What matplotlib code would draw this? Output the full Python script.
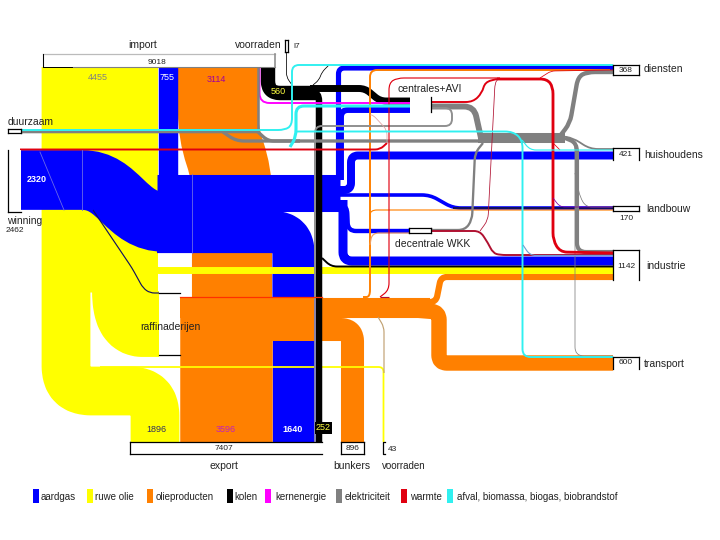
import matplotlib
matplotlib.use("Agg")
import matplotlib.pyplot as plt
from matplotlib.path import Path
from matplotlib.patches import PathPatch, Rectangle

plt.rcParams['font.family'] = ['Liberation Sans', 'DejaVu Sans']

# ---- values (energy units, read from the labels; small flows estimated from their width)
import_total, import_oil, import_gas, import_prod, import_coal = 9018, 4455, 755, 3114, 560
stock_in = 17
winning_total, winning_gas = 2462, 2320
export_total, export_oil, export_prod, export_gas, export_coal = 7407, 1896, 3596, 1640, 252
bunkers, stock_out = 896, 43
diensten, huishoudens, landbouw, industrie, transport = 368, 421, 170, 1142, 600

oil_to_refinery = 2560
oil_to_industry = 270
prod_through, prod_to_industry, prod_to_transport = 780, 240, 470
gas_main, gas_huish, gas_dienst, gas_central, gas_ind, gas_land, gas_wkk = 1440, 310, 200, 230, 350, 140, 170
thin, fine, hair = 75, 45, 30
el_central, el_dienst, el_ind, el_mid, el_huish, el_wkk = 230, 170, 160, 120, 70, 90
heat_ind = 110

legend_names = ['aardgas', 'ruwe olie', 'olieproducten', 'kolen', 'kernenergie',
                'elektriciteit', 'warmte', 'afval, biomassa, biogas, biobrandstof']
legend_colors = ['#0000ff', '#ffff00', '#ff8000', '#000000', '#ff00ff', '#808080', '#e00010', '#30f0f0']

PX = 232 / import_total          # pixels of band width per unit
BLUE, YEL, ORA, BLK, MAG, GRY, RED, CYA = legend_colors[0], legend_colors[1], legend_colors[2], \
    legend_colors[3], legend_colors[4], legend_colors[5], legend_colors[6], legend_colors[7]
NAVY, DRED, PEACH, SLATE = '#101060', '#b01030', '#f0a060', '#8484b4'

fig = plt.figure(figsize=(7.2, 5.4), dpi=100)
ax = fig.add_axes([0, 0, 1, 1])
ax.set_xlim(0, 720)
ax.set_ylim(540, 0)
ax.axis('off')


def rounded(pts, r):
    verts, codes = [pts[0]], [Path.MOVETO]
    for i in range(1, len(pts) - 1):
        p0, p1, p2 = pts[i - 1], pts[i], pts[i + 1]
        d1 = ((p1[0] - p0[0]) ** 2 + (p1[1] - p0[1]) ** 2) ** .5
        d2 = ((p2[0] - p1[0]) ** 2 + (p2[1] - p1[1]) ** 2) ** .5
        a = min(r, d1 / 2) / d1
        b = min(r, d2 / 2) / d2
        verts += [(p1[0] - (p1[0] - p0[0]) * a, p1[1] - (p1[1] - p0[1]) * a), p1,
                  (p1[0] + (p2[0] - p1[0]) * b, p1[1] + (p2[1] - p1[1]) * b)]
        codes += [Path.LINETO, Path.CURVE3, Path.CURVE3]
    verts.append(pts[-1])
    codes.append(Path.LINETO)
    return Path(verts, codes)


def flow(pts, value, color, r=6):
    ax.add_patch(PathPatch(rounded(pts, r), fc='none', ec=color, lw=value * PX * 0.72,
                           capstyle='butt', joinstyle='round'))


def box(x, y, w, h, sides='tlrb', fc='white', ec='black', lw=0.9):
    ax.add_patch(Rectangle((x, y), w, h, fc=fc, ec='none'))
    if 't' in sides: ax.plot([x, x + w], [y, y], color=ec, lw=lw)
    if 'b' in sides: ax.plot([x, x + w], [y + h, y + h], color=ec, lw=lw)
    if 'l' in sides: ax.plot([x, x], [y, y + h], color=ec, lw=lw)
    if 'r' in sides: ax.plot([x + w, x + w], [y, y + h], color=ec, lw=lw)


def label(x, y, s, size=7.5, color='#222222', ha='left', **kw):
    ax.text(x, y, s, fontsize=size, color=color, ha=ha, va='center', **kw)


# ---- crude oil
flow([(66, 67), (66, 391), (155, 391), (155, 442)], export_oil, YEL, r=25)
flow([(125, 67), (125, 324), (159, 324)], oil_to_refinery, YEL, r=33)
flow([(100, 67), (100, 292)], import_oil, YEL)

# ---- products into refinery column
flow([(218, 67), (218, 133), (232, 174), (232, 297)], import_prod, ORA, r=22)

# ---- natural gas
flow([(167.5, 67), (167.5, 185)], import_gas, BLUE)
ax.add_patch(PathPatch(Path([(20, 180), (82, 180), (120, 180), (125, 222), (165, 222)],
                            [Path.MOVETO, Path.LINETO, Path.CURVE4, Path.CURVE4, Path.CURVE4]),
                       fc='none', ec=BLUE, lw=winning_gas * PX * 0.72, capstyle='butt'))
flow([(157, 192.5), (340, 192.5)], gas_main, BLUE)
flow([(157, 232), (293.5, 232), (293.5, 300)], export_gas, BLUE, r=21)
for xs, ys in [((82, 82), (150, 210)), ((192, 192), (174, 253)), ((40, 64), (152, 210))]:
    ax.plot(xs, ys, color='#6a6ae8', lw=0.6)

# ---- gas branches
flow([(335, 190), (351, 190), (351, 155.5), (613, 155.5)], gas_huish, BLUE, r=7)
flow([(338.5, 180), (338.5, 68), (613, 68)], gas_dienst, BLUE, r=6)
flow([(410, 110), (341, 110), (341, 180)], gas_central, BLUE, r=7)
flow([(343, 200), (343, 261), (613, 261)], gas_ind, BLUE, r=9)
flow([(335, 195), (430, 195), (453, 208), (613, 208)], gas_land, BLUE, r=8)
flow([(453, 208), (613, 208)], thin, NAVY)
flow([(338, 206), (347, 206), (348, 231), (409, 231)], gas_wkk, BLUE, r=8)

# ---- oil products out of refinery
flow([(226, 297), (226, 442)], export_prod, ORA)
flow([(180, 307.5), (430, 307.5)], prod_through, ORA)
flow([(272, 329.5), (352.5, 329.5), (352.5, 442)], bunkers, ORA, r=12)
flow([(420, 302), (436, 302), (441, 277), (613, 277)], prod_to_industry, ORA, r=6)
flow([(415, 310), (439, 312), (439, 363), (613, 363)], transport, ORA, r=8)
ax.plot([180, 322], [297, 297], color='#ff3000', lw=0.9)

flow([(293.5, 341), (293.5, 442)], export_gas, BLUE)

# ---- thin crude flows
flow([(153, 258), (153, 270.5), (613, 270.5)], oil_to_industry, YEL, r=6)
flow([(100, 367), (383.5, 367), (383.5, 442)], stock_out * 1.6, YEL, r=5)
flow([(93, 210), (132, 268), (143, 288), (150, 293), (159, 293)], fine, NAVY, r=5)

# ---- coal
flow([(268, 67), (268, 93), (318, 93)], import_coal, BLK, r=12)
flow([(310, 88.5), (365, 88.5), (380, 101), (410, 101)], 270, BLK, r=6)
flow([(305, 92), (319, 92), (319, 442)], export_coal, BLK, r=9)
flow([(322, 258), (331, 266.5), (613, 266.5)], thin, BLK, r=6)
flow([(286.5, 52), (286.5, 77), (292, 85)], hair, BLK, r=4)
flow([(329, 65), (322, 72), (319, 80), (313, 85)], hair, BLK, r=4)

# ---- nuclear
flow([(259.5, 67), (259.5, 103), (410, 103)], thin, MAG, r=10)

# ---- other orange
flow([(363, 297), (370, 297), (370, 70), (610, 70)], thin, ORA, r=7)
flow([(370, 220), (370, 210), (613, 210)], fine, ORA, r=7)
flow([(370, 245), (372, 233), (410, 233)], fine, PEACH, r=7)
flow([(378, 317), (384, 327), (384, 373)], fine, '#c0a070', r=5)

# ---- electricity
flow([(258.5, 67), (258.5, 132), (22, 132)], 100, GRY, r=2)
flow([(223, 132), (236, 141), (480, 141)], 130, GRY, r=8)
flow([(258, 132), (268, 141), (300, 141)], 130, GRY, r=6)
flow([(432, 106.5), (474, 106.5), (481, 138)], el_central, GRY, r=10)
flow([(478, 138), (565, 138)], 390, GRY)
flow([(560, 136), (570, 123), (578, 77), (587, 72), (613, 72)], el_dienst, GRY, r=8)
flow([(560, 136), (573, 138), (590, 149), (613, 149)], el_huish, GRY, r=8)
flow([(565, 138), (577, 143), (577, 252), (613, 252)], el_ind, GRY, r=9)
flow([(570, 138), (575, 143), (575, 356), (613, 356)], hair, GRY, r=9)
flow([(575, 173), (580, 197), (586, 207), (613, 207)], hair, GRY, r=6)
flow([(483, 143), (475, 153), (472, 220), (465, 230), (431, 230)], el_wkk, GRY, r=7)
flow([(432, 108), (452, 108), (452, 126), (315, 126), (315, 300)], thin, '#8f8f8f', r=7)
flow([(315, 300), (315, 442)], thin, SLATE)

# ---- heat
flow([(20, 149.5), (380, 149.5), (387, 143)], thin, RED, r=5)
flow([(387, 143), (387, 130), (373, 115), (370, 115)], hair, '#e0a0a0', r=5)
flow([(431, 102), (473, 102), (482, 93), (485, 82), (497, 79)], thin, RED, r=7)
flow([(497, 79), (547, 79), (553, 87), (553, 240), (560, 252), (613, 253)], heat_ind, RED, r=7)
flow([(389, 297), (380, 297)], fine, DRED)
flow([(380, 297), (389, 290), (389, 83), (397, 78), (500, 78)], fine, RED, r=7)
flow([(540, 78), (551, 71), (613, 70)], hair, RED, r=4)
flow([(431, 231), (480, 231), (488, 243), (493, 253), (500, 255), (613, 255)], thin, DRED, r=6)
flow([(480, 231), (488, 220), (495, 83), (498, 79)], hair, DRED, r=6)
flow([(553, 198), (560, 207), (613, 207)], hair, '#8000a0', r=5)
flow([(553, 143), (560, 150)], hair, RED)

# ---- waste / biomass
flow([(8, 130), (285, 130), (292, 125), (292, 65), (613, 65)], thin, CYA, r=7)
flow([(290, 147), (296, 137), (296, 106), (410, 106)], 120, CYA, r=8)
flow([(296, 131.5), (513, 131.5), (522.5, 140), (522.5, 357), (613, 357)], thin, CYA, r=8)
flow([(522, 140), (530, 150), (613, 150)], fine, CYA, r=6)
flow([(523, 245), (530, 255.5), (613, 255.5)], fine, '#70a0d0', r=6)

# ---- boxes
box(43, 54, 232, 13, 'lt', ec='#bbbbbb')
ax.plot([43, 43], [54, 67], color='black', lw=0.7)
ax.plot([43, 73], [67, 67], color='black', lw=0.7)
ax.plot([73, 275], [67, 67], color='#808080', lw=0.8)
ax.plot([275, 275], [54, 67], color='#909090', lw=1.2)
box(284.5, 40, 3.5, 12, 'tlrb')
box(8, 129, 13, 4, 'tlrb')
box(7.5, 150, 13, 62, 'lb')
ax.plot([159, 180], [293, 293], color='black', lw=0.9)
ax.plot([159, 180], [355, 355], color='black', lw=0.9)
ax.plot([430.5, 430.5], [97, 112], color='black', lw=0.9)
box(409, 228, 22, 5, 'tlrb')
box(130, 442, 192, 12, 'ltb')
box(341, 442, 23, 12, 'tlrb')
ax.plot([385, 383, 383, 385], [442, 442, 454, 454], color='black', lw=0.9)
box(613, 65, 26, 9.5, 'tlrb')
box(613, 148, 26, 12, 'tlr')
box(613, 206, 26, 5, 'tlrb')
box(613, 250, 26, 30, 'tlr')
box(613, 357, 26, 12, 'tlr')

# ---- texts
label(143, 45, 'import', ha='center')
label(157, 62, str(import_total), size=6, ha='center')
label(98, 78, str(import_oil), size=6.5, color='#808080', ha='center')
label(167, 78, str(import_gas), size=6.5, color='white', ha='center')
label(216, 79, str(import_prod), size=6.5, color='#a000a0', ha='center')
label(235, 45, 'voorraden')
label(293, 46, 'l7', size=6)
label(278, 92, str(import_coal), size=6.5, color='#ffff40', ha='center')
label(8, 122, 'duurzaam')
label(37, 179, str(winning_gas), size=6.5, color='white', ha='center', fontweight='bold')
label(7, 220.5, 'winning')
label(6, 230, str(winning_total), size=6)
label(397, 89.5, 'centrales+AVI')
label(395, 244, 'decentrale WKK')
label(140, 327, 'raffinaderijen')
label(156, 429, str(export_oil), size=6.5, color='#303060', ha='center')
label(226, 429, str(export_prod), size=6.5, color='#c020c0', ha='center')
label(293, 429, str(export_gas), size=6.5, color='white', ha='center', fontweight='bold')
ax.text(323.5, 428, str(export_coal), fontsize=6.5, color='#ffff40', ha='center', va='center',
        bbox=dict(fc='black', ec='none', pad=1))
label(224, 449, str(export_total), size=6, ha='center')
label(224, 466, 'export', ha='center')
label(352.5, 449, str(bunkers), size=6, ha='center')
label(352, 466, 'bunkers', ha='center')
label(388, 449.5, str(stock_out), size=6)
label(404, 466, 'voorraden', size=7, ha='center')
label(626, 70, str(diensten), size=6, ha='center')
label(626, 155, str(huishoudens), size=6, ha='center')
label(626, 218, str(landbouw), size=6, ha='center')
label(626, 266, str(industrie), size=6, ha='center')
label(626, 363, str(transport), size=6, ha='center')
label(644, 69, 'diensten')
label(644, 154.5, 'huishoudens')
label(646, 209, 'landbouw')
label(646, 266, 'industrie')
label(644, 364, 'transport')

# ---- legend
swatch_x = [33, 87, 147, 227, 265, 336, 401, 447]
text_x = [41, 95, 156, 234, 275, 345, 410, 457]
for sx, tx, name, col in zip(swatch_x, text_x, legend_names, legend_colors):
    ax.add_patch(Rectangle((sx, 489), 5.5, 14, fc=col, ec='none'))
    label(tx, 497, name, size=7)

fig.savefig('out.png', dpi=100)
